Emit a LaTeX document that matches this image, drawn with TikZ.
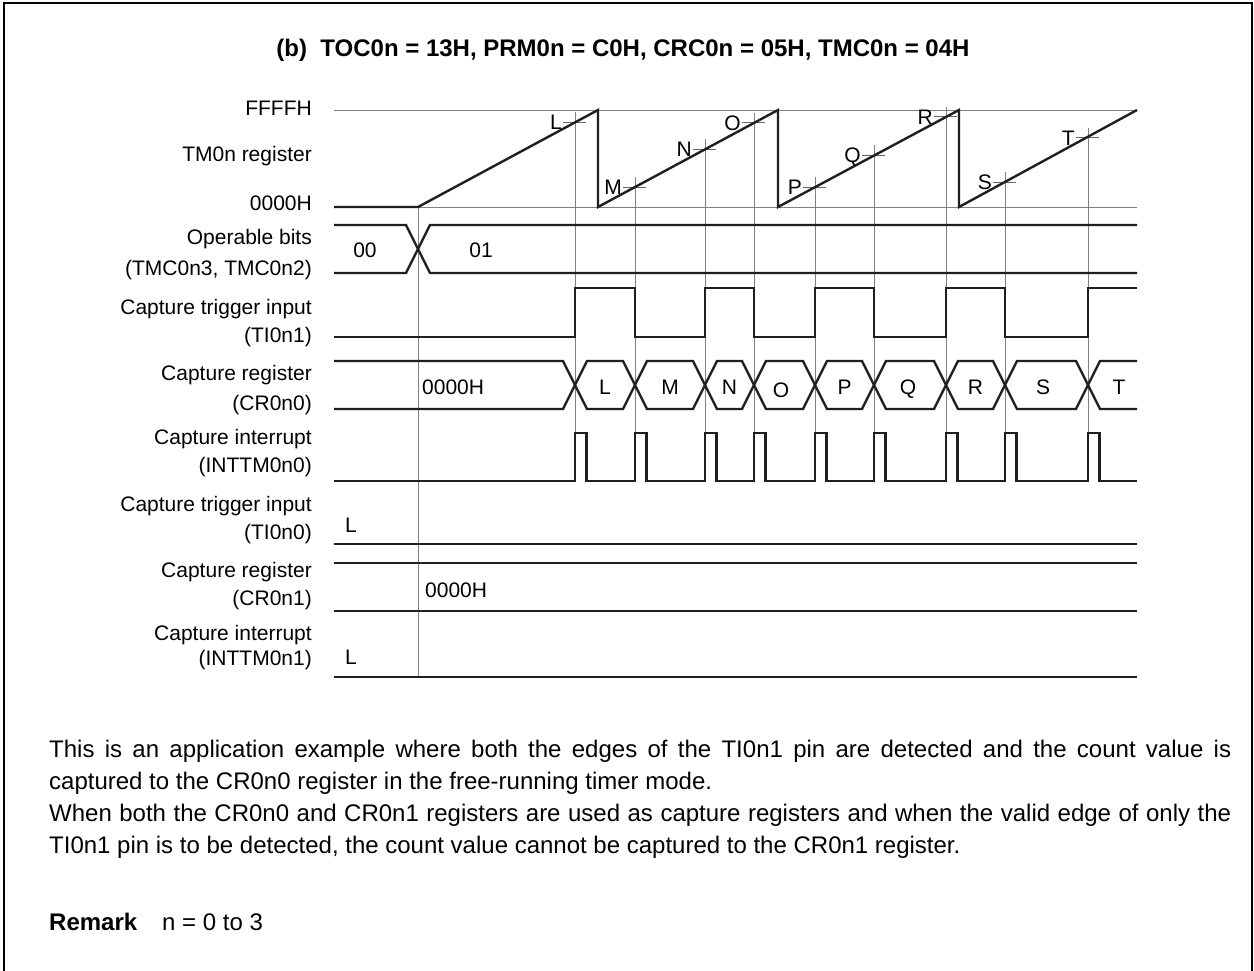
\documentclass[tikz,border=0pt]{standalone}
\usepackage{fontspec}
\setmainfont{Liberation Sans}
\begin{document}
\begin{tikzpicture}[x=1pt,y=-1pt,
  sig/.style={line width=2.4pt,draw=black!88,line join=miter,line cap=butt},
  gridln/.style={line width=0.9pt,draw=black!50},
  tickln/.style={line width=0.9pt,draw=black!60},
  lbl/.style={anchor=base east,inner sep=0pt,font=\fontsize{21}{25}\selectfont},
  val/.style={anchor=base,inner sep=0pt,font=\fontsize{21}{25}\selectfont},
  valw/.style={anchor=base west,inner sep=0pt,font=\fontsize{21}{25}\selectfont},
  body/.style={anchor=base west,inner sep=0pt,font=\fontsize{24}{31}\selectfont}]
\useasboundingbox (0,0) rectangle (1254,970);
\fill[white] (0,0) rectangle (1254,970);
\draw[line width=2.5pt] (4,975) -- (4,3) -- (1252,3) -- (1252,975);

% title
\node[anchor=base,inner sep=0pt,font=\fontsize{24}{28}\selectfont\bfseries] (title) at (623,56.6)
  {(b)\ \ TOC0n = 13H, PRM0n = C0H, CRC0n = 05H, TMC0n = 04H};

% left labels
\node[lbl] (l1) at (312,115.5) {FFFFH};
\node[lbl] (l2) at (312,161.5) {TM0n register};
\node[lbl] (l3) at (312,210.5) {0000H};
\node[lbl] (l4a) at (312,244.5) {Operable bits};
\node[lbl] (l4b) at (312,275.5) {(TMC0n3, TMC0n2)};
\node[lbl] (l5a) at (312,314.5) {Capture trigger input};
\node[lbl] (l5b) at (312,342.5) {(TI0n1)};
\node[lbl] (l6a) at (312,380.5) {Capture register};
\node[lbl] (l6b) at (312,410.5) {(CR0n0)};
\node[lbl] (l7a) at (312,444.5) {Capture interrupt};
\node[lbl] (l7b) at (312,472.5) {(INTTM0n0)};
\node[lbl] (l8a) at (312,511.5) {Capture trigger input};
\node[lbl] (l8b) at (312,539.5) {(TI0n0)};
\node[lbl] (l9a) at (312,577.5) {Capture register};
\node[lbl] (l9b) at (312,605.5) {(CR0n1)};
\node[lbl] (l10a) at (312,640.5) {Capture interrupt};
\node[lbl] (l10b) at (312,665.5) {(INTTM0n1)};

% reference levels and grid lines
\draw[gridln] (334,110) -- (1137,110);
\draw[gridln] (418,207) -- (1137,207);
\draw[gridln] (418,207) -- (418,677);
\foreach \x/\y/\t in {575/122.4/L,635/187.1/M,705/149.3/N,754/122.9/O,815/187.1/P,874/155.3/Q,946/116.5/R,1005/182.2/S,1088/137.5/T}{
  \draw[gridln] (\x,\y-10) -- (\x,481);
  \draw[tickln] (\x-12,\y) -- (\x+11,\y);
  \node[lbl] (c\t) at (\x-13,\y+7.5) {\t};
}

% TM0n sawtooth
\draw[sig] (334,207) -- (418,207) -- (598,110) -- (598,207) -- (778,110) -- (778,207)
  -- (959,110) -- (959,207) -- (1137,110);

% operable bits
\draw[sig] (334,225) -- (406,225) -- (430,273) -- (1137,273);
\draw[sig] (334,273) -- (406,273) -- (430,225) -- (1137,225);
\node[val] (v00) at (365,257.5) {00};
\node[val] (v01) at (481,257.5) {01};

% TI0n1
\draw[sig] (334,337) -- (575,337) -- (575,288) -- (635,288) -- (635,337) -- (705,337)
  -- (705,288) -- (754,288) -- (754,337) -- (815,337) -- (815,288) -- (874,288)
  -- (874,337) -- (946,337) -- (946,288) -- (1005,288) -- (1005,337) -- (1088,337)
  -- (1088,288) -- (1137,288);

% CR0n0 bus
\draw[sig] (334,361) -- (563,361) -- (587,409) -- (623,409) -- (647,361) -- (693,361)
  -- (717,409) -- (742,409) -- (766,361) -- (803,361) -- (827,409) -- (862,409)
  -- (886,361) -- (934,361) -- (958,409) -- (993,409) -- (1017,361) -- (1076,361)
  -- (1100,409) -- (1137,409);
\draw[sig] (334,409) -- (563,409) -- (587,361) -- (623,361) -- (647,409) -- (693,409)
  -- (717,361) -- (742,361) -- (766,409) -- (803,409) -- (827,361) -- (862,361)
  -- (886,409) -- (934,409) -- (958,361) -- (993,361) -- (1017,409) -- (1076,409)
  -- (1100,361) -- (1137,361);
\node[valw] (r0) at (422,394.5) {0000H};
\foreach \x/\t/\yy in {605/L/394.5,670/M/394.5,729.5/N/394.5,781/O/397,844.5/P/394.5,908/Q/394.5,975.5/R/394.5,1043/S/394.5,1119/T/394.5}{
  \node[val] (b\t) at (\x,\yy) {\t};
}

% INTTM0n0
\draw[sig] (334,481) foreach \c in {575,635,705,754,815,874,946,1005,1088}{
  -- (\c,481) -- (\c,433) -- (\c+11.5,433) -- (\c+11.5,481)} -- (1137,481);

% TI0n0
\draw[sig] (334,544) -- (1137,544);
\node[valw] (t0) at (345,532.5) {L};

% CR0n1
\draw[sig] (334,563) -- (1137,563);
\draw[sig] (334,611) -- (1137,611);
\node[valw] (r1) at (425,597.5) {0000H};

% INTTM0n1
\draw[sig] (334,677) -- (1137,677);
\node[valw] (i1) at (345,664.5) {L};

% body text
\node[body] (p1) at (49,757.6) {\makebox[1182pt][s]{This is an application example where both the edges of the TI0n1 pin are detected and the count value is}};
\node[body] (p2) at (49,789.6) {captured to the CR0n0 register in the free-running timer mode.};
\node[body] (p3) at (49,821.6) {\makebox[1182pt][s]{When both the CR0n0 and CR0n1 registers are used as capture registers and when the valid edge of only the}};
\node[body] (p4) at (49,853.6) {TI0n1 pin is to be detected, the count value cannot be captured to the CR0n1 register.};
\node[body,font=\fontsize{24}{31}\selectfont\bfseries] (rm) at (49,930.6) {Remark};
\node[body] (rn) at (162,930.6) {n = 0 to 3};
\end{tikzpicture}
\end{document}
